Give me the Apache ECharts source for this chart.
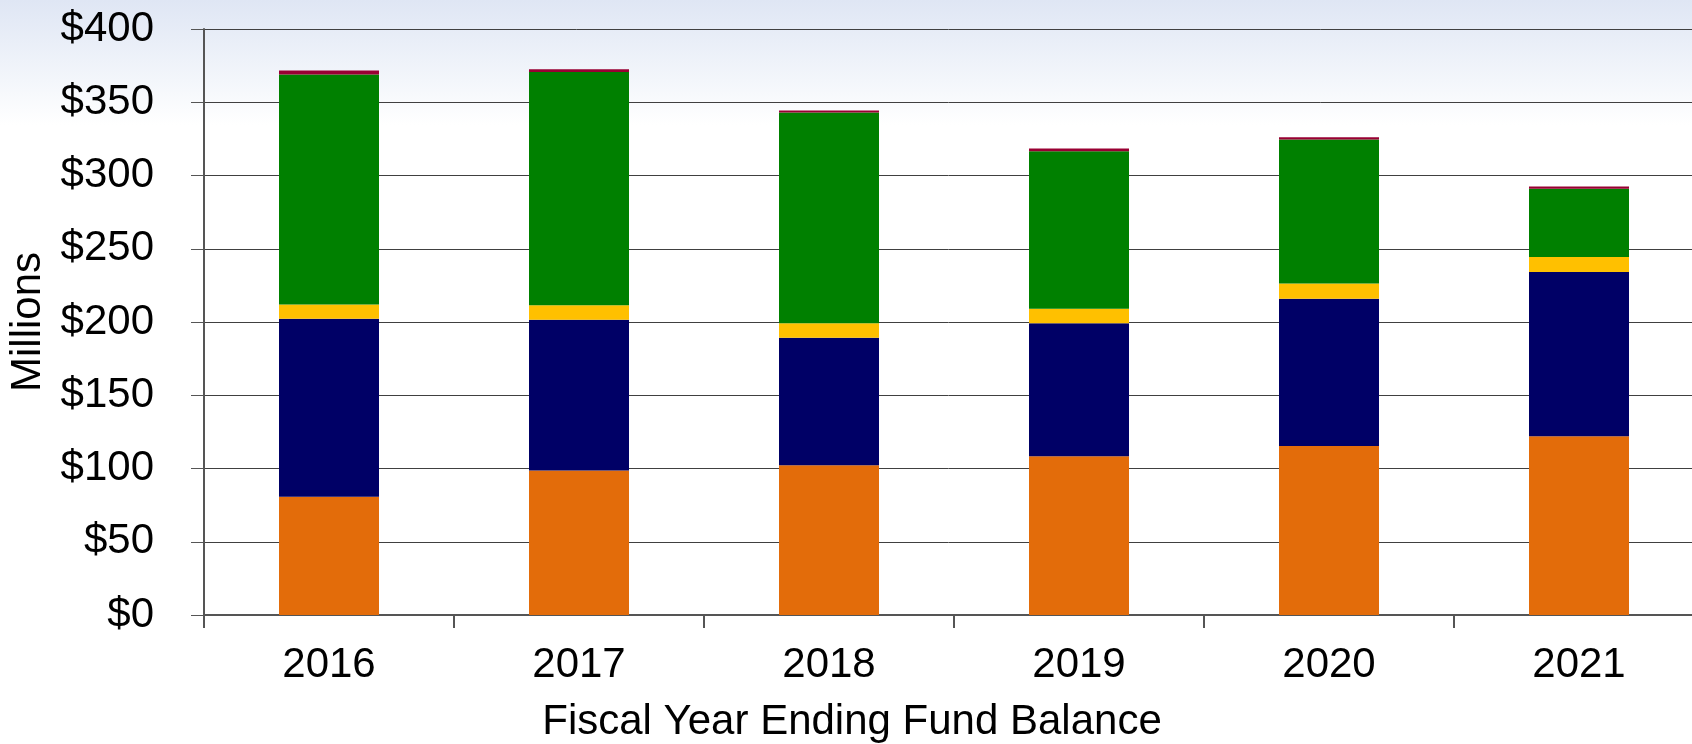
<!DOCTYPE html>
<html>
<head>
<meta charset="utf-8">
<script src="https://cdn.jsdelivr.net/npm/echarts@6/dist/echarts.min.js"></script>
<style>
  html, body { margin: 0; padding: 0; }
  body {
    width: 1692px; height: 744px; overflow: hidden;
    background: linear-gradient(to bottom, #dfe6f4 0px, #f3f6fb 80px, #ffffff 125px, #ffffff 744px);
  }
  #chart { width: 1692px; height: 744px; }
</style>
</head>
<body>
<div id="chart"></div>
<script>
const years = ['2016', '2017', '2018', '2019', '2020', '2021']
const orangeVals = [80.7, 98.6, 102.3, 108.4, 115.4, 122.0]
const navyVals = [121.6, 103.0, 87.0, 90.7, 100.5, 112.1]
const yellowVals = [9.7, 9.8, 9.8, 10.0, 10.3, 10.2]
const greenVals = [156.9, 159.3, 143.9, 107.5, 98.3, 46.6]
const redVals = [2.7, 1.8, 1.3, 1.8, 1.6, 1.6]

const yTicks = { min: 0, max: 400, interval: 50 }

const layers = [
  { name: 'Orange', data: orangeVals, color: '#e36c0a' },
  { name: 'Navy', data: navyVals, color: '#000066' },
  { name: 'Yellow', data: yellowVals, color: '#ffc000' },
  { name: 'Green', data: greenVals, color: '#008000' },
  { name: 'Red', data: redVals, color: '#990033' },
]

const chart = echarts.init(document.getElementById('chart'))

const font = 'Liberation Sans, Arial, sans-serif'

chart.setOption({
  backgroundColor: 'transparent',
  animation: false,
  grid: { left: 204, right: -12, top: 29, bottom: 129, outerBoundsMode: 'none', containLabel: false },
  xAxis: {
    type: 'category',
    data: years,
    name: 'Fiscal Year Ending Fund Balance',
    nameLocation: 'middle',
    nameGap: 86,
    nameTextStyle: { color: '#000', fontSize: 42, fontFamily: font, padding: [0, 204, 0, 0] },
    axisLine: { lineStyle: { color: '#555', width: 2 } },
    axisTick: { show: true, length: 13, lineStyle: { color: '#555', width: 2 } },
    axisLabel: { color: '#000', fontSize: 42, fontFamily: font, margin: 29 },
  },
  yAxis: {
    type: 'value',
    min: yTicks.min,
    max: yTicks.max,
    interval: yTicks.interval,
    name: 'Millions',
    nameLocation: 'middle',
    nameGap: 150,
    nameTextStyle: { color: '#000', fontSize: 42, fontFamily: font },
    axisLine: { show: true, lineStyle: { color: '#555', width: 2 } },
    axisTick: { show: true, length: 13, lineStyle: { color: '#555', width: 1 } },
    axisLabel: {
      color: '#000', fontSize: 42, fontFamily: font, margin: 50,
      formatter: v => '$' + v,
    },
    splitLine: { show: true, lineStyle: { color: '#404040', width: 1 } },
  },
  series: layers.map(l => ({
    name: l.name,
    type: 'bar',
    stack: 'total',
    barWidth: '40%',
    data: l.data,
    itemStyle: { color: l.color },
  })),
})
</script>
</body>
</html>
